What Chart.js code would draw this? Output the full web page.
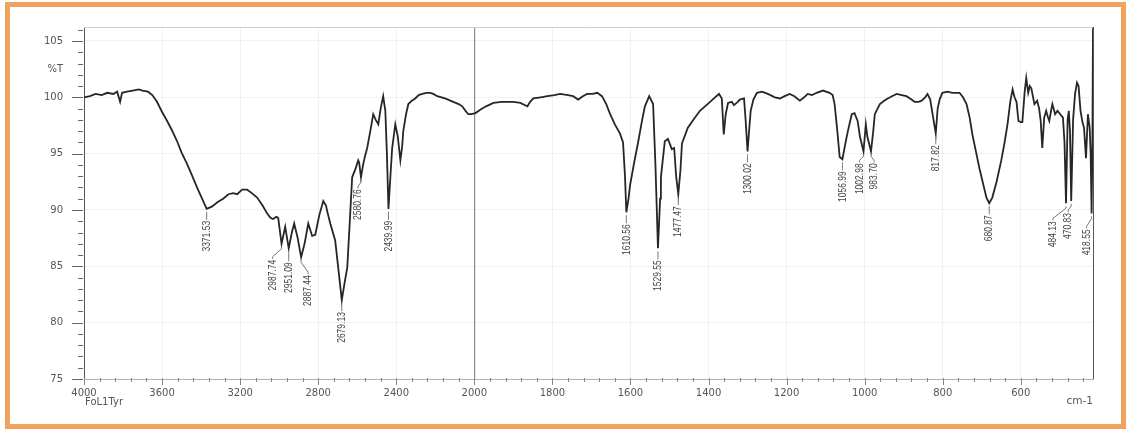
<!DOCTYPE html>
<html>
<head>
<meta charset="utf-8">
<script src="https://cdn.jsdelivr.net/npm/chart.js@4.4.1/dist/chart.umd.min.js"></script>
<style>
  html, body { margin: 0; padding: 0; background: #fff; }
  #frame {
    position: absolute; left: 5px; top: 2px; width: 1121px; height: 427px;
    box-sizing: border-box; border: 5px solid #f1a35c;
  }
  #irChart { position: absolute; left: 0; top: 0; }
</style>
</head>
<body>
<div id="frame"></div>
<canvas id="irChart" width="1126" height="430"></canvas>
<script>
// spectrum (cm-1 , %T)
const wavenumbers = [
  4000, 3970, 3940, 3910, 3880, 3850, 3830, 3815, 3805, 3780, 3750, 3720, 3700, 3672, 3650, 3626,
  3600, 3574, 3550, 3523, 3500, 3472, 3445, 3421, 3395, 3371.53, 3345, 3315, 3287, 3260, 3236, 3215,
  3190, 3164, 3140, 3113, 3085, 3062, 3045, 3031, 3015, 3005, 2987.74, 2969, 2951.09, 2935, 2923, 2905,
  2887.44, 2870, 2851, 2840, 2831, 2815, 2795, 2774, 2760, 2754, 2738, 2713, 2695, 2679.13, 2665, 2651,
  2638, 2626, 2610, 2595, 2590, 2580.76, 2570, 2560, 2549, 2533, 2518, 2505, 2492, 2480, 2467, 2456,
  2448, 2439.99, 2430, 2421, 2405, 2392, 2379, 2370, 2364, 2350, 2338, 2320, 2303, 2285, 2267, 2245,
  2226, 2210, 2190, 2150, 2108, 2080, 2062, 2045, 2031, 2015, 1997, 1985, 1970, 1951, 1930, 1916,
  1900, 1882, 1870, 1864, 1857, 1849, 1830, 1813, 1795, 1780, 1760, 1747, 1734, 1722, 1711, 1697,
  1685, 1673, 1662, 1652, 1640, 1627, 1619, 1614, 1610.56, 1605, 1601, 1590, 1581, 1570, 1563, 1552,
  1542, 1536, 1529.55, 1524, 1522, 1512, 1504, 1494, 1488, 1483, 1477.47, 1472, 1468, 1453, 1437, 1422,
  1396, 1380, 1373, 1366, 1361, 1356, 1350, 1340, 1335, 1325, 1320, 1309, 1305, 1300.02, 1295, 1292,
  1285, 1276, 1263, 1248, 1230, 1217, 1205, 1192, 1180, 1166, 1155, 1146, 1135, 1123, 1107, 1090,
  1082, 1077, 1070, 1064, 1056.99, 1050, 1043, 1033, 1026, 1018, 1012, 1002.98, 997, 993, 983.70, 978,
  974, 961, 950, 941, 930, 918, 905, 893, 880, 872, 862, 854, 845, 839, 832, 826,
  817.82, 813, 808, 801, 788, 775, 757, 748, 739, 731, 724, 715, 706, 697, 688, 680.87,
  673, 662, 650, 642, 634, 627, 621, 616, 611, 606, 600, 596, 590, 586, 581, 577,
  573, 565, 558, 553, 549, 545, 540, 535, 531, 527, 522, 519, 512, 506, 499, 492,
  488, 484.13, 480, 477, 474, 470.83, 466, 461, 456, 452, 447, 442, 438, 433, 428, 423.5,
  421, 418.55, 416.5, 415
];
const transmittance = [
  100.0, 100.1, 100.3, 100.2, 100.4, 100.3, 100.5, 99.6, 100.4, 100.5, 100.6, 100.7, 100.6, 100.5, 100.2, 99.6,
  98.7, 97.9, 97.1, 96.1, 95.1, 94.1, 93.0, 92.0, 91.0, 90.1, 90.3, 90.7, 91.0, 91.4, 91.5, 91.4,
  91.8, 91.8, 91.5, 91.1, 90.4, 89.7, 89.3, 89.2, 89.4, 89.3, 87.0, 88.5, 86.6, 88.0, 88.8, 87.5,
  85.8, 87.0, 88.8, 88.2, 87.7, 87.8, 89.5, 90.8, 90.4, 89.9, 88.8, 87.3, 84.5, 82.0, 83.5, 84.9,
  89.0, 92.9, 93.6, 94.4, 94.2, 92.9, 94.0, 94.8, 95.5, 97.0, 98.5, 98.0, 97.6, 99.0, 100.1, 98.8,
  95.0, 90.1, 93.0, 95.5, 97.6, 96.5, 94.4, 95.6, 97.0, 98.5, 99.4, 99.7, 99.9, 100.2, 100.3, 100.4,
  100.4, 100.3, 100.1, 99.9, 99.6, 99.4, 99.2, 98.8, 98.5, 98.5, 98.6, 98.9, 99.2, 99.5, 99.6, 99.6,
  99.6, 99.5, 99.3, 99.2, 99.6, 99.9, 100.0, 100.1, 100.2, 100.3, 100.2, 100.1, 99.8, 100.1, 100.3, 100.3,
  100.4, 100.1, 99.4, 98.5, 97.6, 96.8, 96.0, 93.0, 89.8, 91.0, 92.2, 94.3, 95.9, 98.0, 99.2, 100.1,
  99.4, 94.0, 86.6, 91.0, 92.9, 96.1, 96.3, 95.4, 95.5, 93.0, 91.4, 93.5, 95.9, 97.3, 98.1, 98.8,
  99.6, 100.1, 100.3, 99.9, 96.7, 98.5, 99.5, 99.6, 99.3, 99.6, 99.8, 99.9, 98.0, 95.2, 97.5, 98.8,
  99.8, 100.4, 100.5, 100.3, 100.0, 99.9, 100.1, 100.3, 100.1, 99.7, 100.0, 100.3, 100.2, 100.4, 100.6, 100.4,
  100.2, 99.4, 97.0, 94.7, 94.5, 95.8, 97.0, 98.5, 98.6, 97.9, 96.5, 95.2, 97.6, 96.5, 95.2, 97.0,
  98.5, 99.4, 99.7, 99.9, 100.1, 100.3, 100.2, 100.1, 99.8, 99.6, 99.6, 99.7, 100.0, 100.3, 99.8, 98.5,
  96.8, 99.0, 99.8, 100.4, 100.5, 100.4, 100.4, 100.0, 99.4, 98.2, 96.7, 95.2, 93.7, 92.4, 91.1, 90.6,
  91.1, 92.5, 94.4, 95.9, 97.6, 99.6, 100.7, 100.0, 99.6, 97.9, 97.8, 97.8, 100.5, 101.7, 100.4, 101.0,
  100.8, 99.4, 99.7, 99.0, 97.9, 95.5, 98.2, 98.8, 98.3, 97.9, 98.9, 99.4, 98.5, 98.8, 98.5, 98.2,
  96.0, 90.6, 98.0, 98.8, 97.0, 90.8, 98.0, 100.3, 101.3, 101.0, 98.8, 97.8, 97.3, 94.6, 98.5, 97.3,
  95.0, 89.7, 96.0, 106.2
];

// labelled peaks
const peakWn = [3371.53, 2987.74, 2951.09, 2887.44, 2679.13, 2580.76, 2439.99, 1610.56, 1529.55,
  1477.47, 1300.02, 1056.99, 1002.98, 983.70, 817.82, 680.87, 484.13, 470.83, 418.55];

const xTickValues = [4000, 3600, 3200, 2800, 2400, 2000, 1800, 1600, 1400, 1200, 1000, 800, 600];
const yTickValues = [75, 80, 85, 90, 95, 100, 105];
const yUnitLabel = '%T';
const xUnitLabel = 'cm-1';
const sampleName = 'FoL1Tyr';

// the printout halves its scale above 2000 cm-1
const WN_HI = 4000, WN_SPLIT = 2000, WN_LO = 415;
const SPAN = (WN_HI - WN_SPLIT) / 2 + (WN_SPLIT - WN_LO);
function warp(v) {
  return v >= WN_SPLIT ? (WN_HI - v) / 2 / SPAN : ((WN_HI - WN_SPLIT) / 2 + (WN_SPLIT - v)) / SPAN;
}
function unwarp(d) {
  const u = d * SPAN;
  return u <= (WN_HI - WN_SPLIT) / 2 ? WN_HI - u * 2 : WN_SPLIT - (u - (WN_HI - WN_SPLIT) / 2);
}

class SplitScale extends Chart.LinearScale {
  static id = 'split';
  static defaults = Chart.LinearScale.defaults;
  getPixelForValue(v) { return this.getPixelForDecimal(warp(v)); }
  getValueForPixel(p) { return unwarp(this.getDecimalForPixel(p)); }
}
Chart.register(SplitScale);

// label nudges where the printout bends the leader lines
const labelNudge = {
  '2987.74': [-9, 4], '2951.09': [0, 2], '2887.44': [7, 6], '2580.76': [-3, 0],
  '1002.98': [-4, 0], '983.70': [3, 0], '484.13': [-13, 6], '470.83': [-3, 0], '418.55': [-5, 4]
};

const frameDecor = {
  id: 'frameDecor',
  afterDatasetsDraw(chart) {
    const { ctx, chartArea: a, scales: { x, y } } = chart;
    ctx.save();
    // top and right border of plot
    ctx.strokeStyle = '#cfcfcf';
    ctx.lineWidth = 1;
    ctx.beginPath(); ctx.moveTo(a.left, a.top + 0.5); ctx.lineTo(a.right, a.top + 0.5); ctx.stroke();
    ctx.strokeStyle = '#555';
    ctx.beginPath(); ctx.moveTo(a.right + 0.5, a.top); ctx.lineTo(a.right + 0.5, a.bottom); ctx.stroke();

    // y tick marks, every 1 %T
    ctx.strokeStyle = '#666';
    for (let v = 75; v <= 106; v++) {
      const py = Math.round(y.getPixelForValue(v)) + 0.5;
      const len = v % 5 === 0 ? 12 : 6;
      ctx.beginPath(); ctx.moveTo(a.left - len, py); ctx.lineTo(a.left - 1, py); ctx.stroke();
    }
    // x tick marks: 80 cm-1 steps above 2000, 40 below
    const xMinor = [];
    for (let v = 4000; v > 2000; v -= 80) xMinor.push(v);
    for (let v = 2000; v >= 440; v -= 40) xMinor.push(v);
    ctx.strokeStyle = '#888';
    xMinor.forEach(v => {
      const px = Math.round(x.getPixelForValue(v)) + 0.5;
      const len = xTickValues.includes(v) ? 6 : 3;
      ctx.beginPath(); ctx.moveTo(px, a.bottom - 1); ctx.lineTo(px, a.bottom + len); ctx.stroke();
    });

    // peak labels
    ctx.fillStyle = '#444';
    ctx.strokeStyle = '#777';
    ctx.font = '8.5px "Liberation Sans Narrow", "Arial Narrow", "Liberation Sans", sans-serif';
    peakWn.forEach(wn => {
      const i = wavenumbers.indexOf(wn);
      if (i < 0) return;
      const px = x.getPixelForValue(wn);
      const py = y.getPixelForValue(transmittance[i]);
      const txt = wn.toFixed(2);
      const [dx, dy] = labelNudge[txt] || [0, 0];
      ctx.beginPath();
      ctx.moveTo(px, py + 3);
      ctx.lineTo(px, py + 5);
      ctx.lineTo(px + dx, py + 9 + dy);
      ctx.lineTo(px + dx, py + 11 + dy);
      ctx.stroke();
      ctx.save();
      ctx.translate(px + dx, py + 12 + dy);
      ctx.rotate(-Math.PI / 2);
      ctx.scale(1, 1.35);
      ctx.textAlign = 'right';
      ctx.textBaseline = 'middle';
      ctx.fillText(txt, 0, 0);
      ctx.restore();
    });

    // sample name and unit
    ctx.fillStyle = '#555';
    ctx.textBaseline = 'middle';
    ctx.font = '10px "DejaVu Sans", sans-serif';
    ctx.textAlign = 'left';
    ctx.fillText(sampleName, a.left + 1, 402);
    ctx.font = '10.5px "DejaVu Sans", sans-serif';
    ctx.textAlign = 'right';
    ctx.fillText(xUnitLabel, a.right, 401);
    ctx.restore();
  }
};

const points = wavenumbers.map((w, i) => ({ x: w, y: transmittance[i] }));

new Chart(document.getElementById('irChart').getContext('2d'), {
  type: 'line',
  data: {
    datasets: [{
      data: points,
      borderColor: '#262626',
      borderWidth: 1.8,
      pointRadius: 0,
      tension: 0,
      fill: false
    }]
  },
  options: {
    responsive: false,
    animation: false,
    layout: { padding: { left: 0, top: 25, right: 33, bottom: 0 } },
    plugins: { legend: { display: false }, tooltip: { enabled: false } },
    scales: {
      x: {
        type: 'split',
        min: WN_LO,
        max: WN_HI,
        afterBuildTicks: s => { s.ticks = xTickValues.map(v => ({ value: v })); },
        afterFit: s => { s.height = 51; },
        ticks: {
          autoSkip: false, maxRotation: 0, padding: 8, color: '#555',
          font: { family: '"DejaVu Sans", sans-serif', size: 10 },
          callback: v => String(v)
        },
        grid: {
          drawTicks: false,
          color: c => (c.tick && c.tick.value === 2000 ? '#8c8c8c' : 'rgba(0,0,0,0.05)'),
          lineWidth: c => (c.tick && c.tick.value === 2000 ? 1.2 : 1)
        },
        border: { color: '#b0b0b0' }
      },
      y: {
        min: 75,
        max: 106.24,
        afterBuildTicks: s => { s.ticks = [...yTickValues, 102.5].sort((a, b) => a - b).map(v => ({ value: v })); },
        afterFit: s => { s.width = 84; },
        ticks: {
          padding: 21, color: '#555',
          font: { family: '"DejaVu Sans", sans-serif', size: 10 },
          callback: v => (v === 102.5 ? yUnitLabel : String(v))
        },
        grid: {
          drawTicks: false,
          color: c => (c.tick && c.tick.value === 102.5 ? 'rgba(0,0,0,0)' : 'rgba(0,0,0,0.05)')
        },
        border: { color: '#555' }
      }
    }
  },
  plugins: [frameDecor]
});
</script>
</body>
</html>
